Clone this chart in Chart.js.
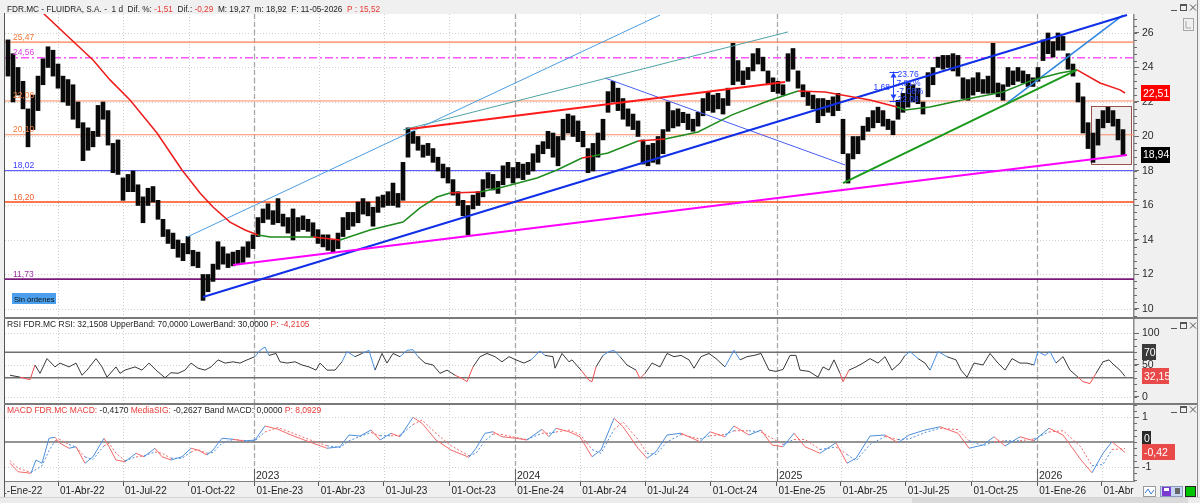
<!DOCTYPE html>
<html>
<head>
<meta charset="utf-8">
<script src="https://cdn.jsdelivr.net/npm/chart.js@4.4.1/dist/chart.umd.min.js"></script>
<style>
html,body{margin:0;padding:0}
body{position:relative;width:1200px;height:503px;overflow:hidden;background:#f0f0f0}
canvas{position:absolute;left:0}
.fr{position:absolute}
</style>
</head>
<body>
<canvas id="cPrice" width="1200" height="343" style="top:-6px"></canvas>
<canvas id="cRsi" width="1200" height="124" style="top:299px"></canvas>
<canvas id="cMacd" width="1200" height="132" style="top:385px"></canvas>
<div class="fr" style="left:4px;top:13px;width:1px;height:484px;background:#555"></div>
<div class="fr" style="left:4px;top:317px;width:1193px;height:2px;background:#7a7a7a"></div>
<div class="fr" style="left:4px;top:403px;width:1193px;height:2px;background:#7a7a7a"></div>
<div class="fr" style="left:1197px;top:0;width:1px;height:497px;background:#8a8a8a"></div>
<div class="fr" style="left:0;top:497px;width:1200px;height:6px;background:#ececec;border-top:1px solid #d4d4d4"></div>
<div class="fr" style="left:912px;top:498px;width:276px;height:5px;background:#dadada"></div>
<script>
const FONT = '"Liberation Sans", Arial, Helvetica, sans-serif';
Chart.defaults.font.family = FONT;
const PAD = 20;
const DARK = '#1e1e1e', RED = '#e53935';

// ---------- time axis ----------
const firstBarDate = '2022-01-21';
const firstTickDate = '2022-01-01', firstTickLabel = '01-Ene-22';
const quarterDates = ['2022-04-01','2022-07-01','2022-10-01','2023-01-01','2023-04-01','2023-07-01','2023-10-01','2024-01-01','2024-04-01','2024-07-01','2024-10-01','2025-01-01','2025-04-01','2025-07-01','2025-10-01','2026-01-01','2026-04-01'];
const quarterLabels = ['01-Abr-22','01-Jul-22','01-Oct-22','01-Ene-23','01-Abr-23','01-Jul-23','01-Oct-23','01-Ene-24','01-Abr-24','01-Jul-24','01-Oct-24','01-Ene-25','01-Abr-25','01-Jul-25','01-Oct-25','01-Ene-26','01-Abr'];
const yearDates = ['2023-01-01','2024-01-01','2025-01-01','2026-01-01'];
const yearLabels = ['2023','2024','2025','2026'];
const X_MIN = -0.6, X_MAX = 225.2;

// ---------- price (weekly ranges) ----------
const priceLow = [23.5,22.0,22.4,21.6,19.4,20.4,21.5,23.0,24.0,23.5,22.8,22.0,21.8,21.0,20.5,18.6,19.2,19.4,20.0,21.0,
19.5,17.9,17.8,16.3,16.8,16.8,16.0,15.0,16.0,16.2,15.2,14.2,13.8,13.5,13.0,12.8,13.2,12.5,12.4,10.5,
11.0,11.6,12.3,12.6,12.4,12.5,12.6,12.7,13.0,13.5,14.2,15.0,15.2,14.9,15.0,14.8,14.4,14.0,14.5,14.6,
14.5,14.2,13.8,13.6,13.4,13.3,13.5,14.2,14.6,14.8,15.0,15.5,15.4,14.8,15.6,15.9,16.0,16.0,15.9,16.3,
18.8,19.6,19.2,18.8,18.9,18.5,18.0,17.6,17.3,16.6,16.0,15.4,14.3,15.8,16.0,16.5,17.0,16.9,16.7,17.2,
17.6,17.3,17.6,17.5,17.8,18.0,18.5,19.0,19.3,18.8,18.3,19.8,20.2,20.0,19.7,19.4,17.9,18.0,18.8,19.8,
21.4,22.0,21.5,21.0,20.6,20.4,20.0,18.4,18.3,18.5,18.4,19.0,20.3,20.5,20.6,20.8,20.4,20.3,20.6,21.2,
21.5,21.4,21.6,21.3,21.8,23.0,23.2,23.0,23.3,23.8,24.2,23.8,23.0,22.6,22.5,22.4,23.2,23.9,22.8,22.3,
21.8,21.6,20.8,21.2,21.4,21.2,21.5,19.0,17.3,18.7,19.0,19.8,20.3,20.5,20.8,20.6,20.4,20.1,21.0,21.4,
21.7,22.0,21.9,21.3,22.3,23.0,24.0,23.9,24.0,23.8,23.5,22.2,22.1,22.4,22.6,22.5,22.5,22.5,22.3,22.1,
22.9,23.0,23.2,23.1,22.9,22.9,23.2,24.4,24.8,24.6,25.0,25.0,23.9,23.5,22.0,20.2,19.3,18.5,19.5,20.5,
20.8,20.6,19.8,18.9];
const priceHigh = [25.6,24.8,24.0,23.2,21.6,22.4,23.5,24.5,25.2,25.0,24.2,23.5,23.3,23.0,22.0,20.8,20.5,20.3,21.8,22.0,
21.5,19.6,19.8,17.6,17.8,18.0,17.2,16.5,17.0,17.1,16.3,15.2,14.6,14.4,14.0,13.8,14.2,13.4,13.3,12.0,
12.0,12.6,13.9,13.6,13.2,13.3,13.4,13.6,13.9,14.3,15.3,15.8,16.1,15.7,16.4,15.5,15.3,15.8,15.3,15.4,
15.2,15.0,14.6,14.3,14.3,14.0,14.4,15.3,15.6,15.6,16.2,16.4,16.2,15.9,16.5,16.6,16.8,17.3,16.7,18.5,
20.5,20.3,20.0,19.5,19.6,19.3,18.8,18.4,18.2,17.5,16.8,16.3,16.0,16.6,16.8,17.5,17.9,17.8,17.4,18.3,
18.5,18.2,18.5,18.4,18.5,19.0,19.5,19.7,20.3,20.2,20.0,21.0,21.3,21.2,20.9,20.3,19.3,19.6,20.2,21.0,
22.6,23.2,22.8,22.2,21.6,21.3,20.9,19.8,19.5,19.6,20.0,20.4,22.0,21.5,21.6,21.4,21.3,21.0,21.4,22.2,
22.6,22.4,22.5,22.2,22.8,25.4,24.4,23.8,24.0,24.8,25.1,24.6,23.8,23.4,23.2,23.0,24.8,25.1,23.8,23.0,
22.6,22.4,22.2,22.2,22.1,22.3,22.5,21.0,19.0,20.0,20.0,20.6,21.1,21.5,21.7,21.5,21.0,20.9,22.1,22.5,
23.1,23.0,22.8,22.0,23.7,24.0,24.6,24.7,24.7,24.8,24.7,23.4,23.3,23.4,23.7,23.3,23.5,25.4,23.1,23.0,
24.0,23.8,24.0,23.8,23.6,23.4,24.0,25.6,26.0,25.5,26.0,25.8,24.8,24.2,23.1,22.3,20.8,20.2,21.0,21.5,
21.7,21.5,21.0,20.4];
const priceTicks = [10,12,14,16,18,20,22,24,26];
const PRICE_MIN = 9.536, PRICE_MAX = 27.10;
const lastClose = 18.94, lastCloseLabel = '18,94';

// moving average
const maWeek = [5,17,20.4,24.4,29.8,34.8,38.4,41,44.4,47.4,50,52.4,61,66.4,72.4,79,82.4,85.8,88.4,94.4,99,105.8,109.8,114.8,116.8,120,126,131.4,138,144.8,152,158,163.4,172.4,177.8,179.4,184.4,191.8,199,205,210.4,213.8,218.4,222.4,223.4];
const maValue = [27.7,24.43,23.28,22.12,20.2,18.06,16.72,15.91,15.04,14.58,14.29,14.17,14.17,14.0,14.58,15.04,15.86,16.49,16.72,16.78,17.07,17.59,18.06,18.75,18.85,19.04,19.74,19.86,20.26,21.25,22.06,22.64,22.58,22.12,21.71,21.54,21.71,22.17,22.58,23.28,23.68,23.86,23.1,22.7,22.52];
const maLast = 22.51, maLastLabel = '22,51';

// horizontal levels
const levelValues = [25.47,24.56,22.06,20.10,18.02,16.20,11.73];
const levelLabels = ['25,47','24,56','22,06','20,10','18,02','16,20','11,73'];

// trendlines [week1, value1, week2, value2]
const trendMain = [39, 10.70, 223.8, 27.04];
const trendLight = [35.8, 14.17, 130.4, 27.04];
const trendTeal = [79, 20.38, 156, 26.06];
const trendRed = [80.4, 20.43, 155.4, 23.16];
const trendDown = [119.4, 23.39, 167.4, 18.35];
const trendMagenta = [45, 12.55, 223.8, 18.93];
const trendGreen = [167, 17.3, 213.8, 23.86];
const trendSteep = [199.8, 21.94, 223, 27.04];

const rectWeek = [216.6, 224.6], rectValue = [18.41, 21.77];
const measureWeek = 177, measureTop = 23.76, measureBottom = 22.08;
const measureTexts = ['23.76','7.81%','-7.08%','22.08','1.68'];

// ---------- RSI ----------
const rsiWeek = [0.4,2.4,4.4,5.4,6.4,7.8,9.4,10.4,12.2,13.6,14.8,15.8,17.6,18.8,19.8,21.6,22.4,23.4,25.4,26.8,
28.2,29.6,31.4,32.6,34,35.4,36.6,38,39.4,40.6,42,43.4,45,46.4,47.8,49.4,50.4,51.4,52.2,53.6,
54.4,55.8,57.4,58.8,60.2,61.6,62.4,63.8,65.4,66.8,67.8,69.4,70.8,72.2,73.4,74.8,75.8,77,78.4,79.8,
81,82,83.4,85,86.4,87.8,89.4,90.8,91.8,93,94.4,95.8,97.4,98.8,100.2,101.6,103.2,104.6,106.4,107.4,
109,109.4,110.8,112.2,112.8,114.6,116.2,116.8,117.6,119,120.2,121.2,122.4,123.8,125.6,126.4,127.4,128.8,130.4,131.8,
133.2,134.6,136.2,137.2,138.6,140.2,141.6,143.4,145.2,146.4,147.8,149.2,150.6,152.2,153.6,155,156.4,157.6,158.4,160.2,
162,163,164.2,165.2,166.4,167,168.2,169.6,171,172.4,174,175.4,176.8,178.4,179.4,180.4,182,183.4,184.4,186,
187.8,189.6,190.6,191.8,193.2,195,196.4,198,199.4,200.8,202.4,203.8,205.2,206,207.4,208.4,209.6,211,212.4,214,
215,216.4,217.6,219,220.2,221.2,222.4,223.4];
const rsiValue = [34,31,27,50,37,60,47,53,47,53,34,42,60,47,31,47,37,42,47,42,
53,42,30,38,37,42,53,45,42,47,58,53,55,53,58,63,73,78,65,68,
55,53,55,50,47,42,53,42,42,55,71,63,68,73,42,68,53,68,63,73,
74,63,53,50,37,42,34,29,24,47,63,68,63,55,63,58,53,58,72,65,
63,45,68,55,58,42,26,24,47,65,71,73,63,50,42,29,37,53,47,68,
63,65,58,45,63,68,60,47,73,58,63,65,68,42,40,43,65,65,42,40,
31,47,42,58,37,24,42,47,53,60,53,63,42,53,65,71,60,53,42,71,
63,58,42,31,53,50,68,53,42,60,53,53,50,71,65,71,53,63,42,31,
24,21,37,55,58,50,42,32.15];
const rsiUpper = 70, rsiLower = 30;
const rsiTicks = [0,50,100];
const RSI_MIN = -9.4, RSI_MAX = 121.9;
const rsiLastLabel = '32,15';

// ---------- MACD ----------
const macdWeek = [0.4,2,4.6,5.6,6.8,8.2,9.4,10.4,12.2,13.6,15.4,17,19.2,20.2,21.6,23.4,25.6,27.2,29.4,30.8,
32.6,34.8,36.6,38,39.8,41,42.8,45,47.2,49.4,51.4,54,56.6,60.2,63.8,66.4,68.2,70.4,72.6,74.4,
76.6,78.4,81,82.8,85.6,88.6,92.2,93.6,95.4,97,98.8,101.6,103.8,106.8,108.2,109.6,112.2,114.4,116.8,118.6,
121.2,123,126,127.8,129.6,131.8,134.6,138.4,140.4,143.4,145.2,148.2,150.6,152.8,155,157.2,159.4,162.4,165.6,167.8,
169.6,172.4,175.4,178,180.2,183.4,186.4,190,192.2,195,197.2,199.4,202.4,205.2,208.2,211,214.6,216.8,219,220.8,223.4];
const macdValue = [-0.85,-1.19,-1.25,-0.72,-0.85,0.15,0.19,-0.05,-0.25,-0.19,-0.85,-0.59,0.15,-0.19,-0.72,-0.79,-0.45,-0.59,-0.25,-0.59,
-0.72,-0.59,-0.25,-0.32,-0.52,-0.32,0.15,0.11,0.04,0.08,0.64,0.51,0.28,0.01,-0.25,-0.19,0.28,0.24,0.48,0.08,
0.35,0.21,0.99,0.75,0.08,-0.32,-0.61,-0.25,0.35,0.41,0.21,0.15,0.08,0.51,0.21,0.55,0.41,0.21,-0.59,-0.32,
0.95,0.61,-0.25,-0.65,-0.39,0.28,0.35,0.01,0.41,0.21,0.64,0.28,0.48,-0.12,-0.19,0.35,-0.19,-0.45,-0.03,-0.85,
-0.65,0.24,0.28,-0.03,0.28,0.48,0.61,0.35,-0.25,-0.12,0.21,-0.16,0.21,0.05,0.55,0.28,-0.72,-1.23,-0.45,0.01,-0.417];
const macdSignal = [-0.75,-1.05,-1.22,-1.1,-0.95,-0.35,0.05,0.1,-0.1,-0.2,-0.6,-0.7,-0.15,-0.05,-0.45,-0.75,-0.6,-0.55,-0.4,-0.45,
-0.65,-0.65,-0.4,-0.3,-0.45,-0.42,-0.05,0.1,0.06,0.05,0.4,0.58,0.38,0.1,-0.15,-0.22,0.05,0.22,0.38,0.25,
0.25,0.27,0.7,0.88,0.35,-0.15,-0.55,-0.45,0.05,0.32,0.3,0.18,0.1,0.35,0.35,0.4,0.48,0.3,-0.3,-0.45,
0.5,0.8,0.1,-0.45,-0.5,0.0,0.3,0.12,0.25,0.3,0.45,0.45,0.4,0.15,-0.1,0.1,0.1,-0.3,-0.2,-0.5,
-0.75,-0.1,0.22,0.1,0.12,0.38,0.55,0.5,0.05,-0.15,0.0,0.05,0.05,0.12,0.4,0.45,-0.2,-0.95,-0.9,-0.3,-0.263];
const macdTicks = [-1,1];
const MACD_MIN = -1.56, MACD_MAX = 1.48;
const macdLastLabel = '-0,42';

// ---------- helpers ----------
function weekOf(d){ return (Date.parse(d) - Date.parse(firstBarDate)) / (7*86400000); }
const quarterWeeks = quarterDates.map(weekOf);
const yearWeeks = yearDates.map(weekOf);
const pts = (xs, ys) => xs.map((w,i)=>({x:w, y:ys[i]}));
const segPts = s => [{x:s[0],y:s[1]},{x:s[2],y:s[3]}];
const hPts = v => [{x:X_MIN,y:v},{x:X_MAX,y:v}];
function lineDS(data, color, width, order, extra){
  return Object.assign({type:'line', data, borderColor:color, borderWidth:width, pointRadius:0, tension:0, fill:false, order}, extra||{});
}
function xHidden(){ return {type:'linear', min:X_MIN, max:X_MAX, display:false, offset:false}; }
function yAxis(min, max, ticks){
  return {type:'linear', position:'right', min, max,
    afterBuildTicks: s => { s.ticks = ticks.map(v=>({value:v})); },
    afterFit: s => { s.width = 66; },
    grid:{drawOnChartArea:false, drawTicks:true, tickLength:5, color:'#6a6a6a', lineWidth:1},
    border:{display:true, color:'#8a8a8a', width:1.5},
    ticks:{padding:3, color:'#2a2a2a', font:{family:FONT, size:10.5}, callback: v => String(v)}
  };
}
function runsFit(ctx, parts, x, y, width){
  ctx.font = '10px ' + FONT;
  const w = parts.reduce((s,p)=>s+ctx.measureText(p[0]).width, 0);
  const size = Math.min(11, 10*width/w);
  ctx.font = size.toFixed(2) + 'px ' + FONT;
  ctx.textBaseline = 'alphabetic';
  parts.forEach(([t,c])=>{ ctx.fillStyle=c; ctx.fillText(t,x,y); x += ctx.measureText(t).width; });
}
function winIcons(ctx, y){
  ctx.save(); ctx.strokeStyle='#555'; ctx.lineWidth=1;
  ctx.beginPath(); ctx.moveTo(1171,y+3.5); ctx.lineTo(1177,y+3.5); ctx.stroke();
  ctx.strokeRect(1180.5,y-2.5,6,6);
  ctx.beginPath(); ctx.moveTo(1181,y-1.5); ctx.lineTo(1186,y-1.5); ctx.stroke();
  ctx.beginPath(); ctx.moveTo(1190,y-2.5); ctx.lineTo(1196,y+3.5); ctx.moveTo(1196,y-2.5); ctx.lineTo(1190,y+3.5); ctx.stroke();
  ctx.restore();
}
function valueBox(ctx, x, yc, w, bg, text){
  ctx.fillStyle=bg; ctx.fillRect(x, Math.round(yc-8), w, 16);
  ctx.fillStyle='#fff'; ctx.font='10.5px '+FONT; ctx.textBaseline='middle'; ctx.textAlign='left';
  ctx.fillText(text, x+2, yc+0.5); ctx.textBaseline='alphabetic';
}
function minorTicks(chart, from, to, step){
  const {ctx, chartArea:a} = chart, y = chart.scales.y;
  ctx.save(); ctx.strokeStyle='#6a6a6a'; ctx.lineWidth=1; ctx.beginPath();
  for (let v=from; v<=to+1e-9; v+=step){
    const py = Math.round(y.getPixelForValue(v))+0.5;
    if (py<a.top || py>a.bottom) continue;
    ctx.moveTo(a.right, py); ctx.lineTo(a.right+3, py);
  }
  ctx.stroke(); ctx.restore();
}

// background, dotted grid, year dashes
const panelBg = {
  id:'panelBg',
  beforeDraw(chart, args, o){
    const {ctx, chartArea:a} = chart, x = chart.scales.x, y = chart.scales.y;
    ctx.save();
    ctx.fillStyle='#ffffff'; ctx.fillRect(a.left, a.top, a.right-a.left, a.bottom-a.top);
    ctx.strokeStyle='#cfcfcf'; ctx.lineWidth=1; ctx.setLineDash([1,2]);
    ctx.beginPath();
    (o.hLines||[]).forEach(v=>{ const py=Math.round(y.getPixelForValue(v))+0.5; if(py>a.top&&py<a.bottom){ctx.moveTo(a.left,py); ctx.lineTo(a.right,py);} });
    quarterWeeks.forEach(w=>{ const px=Math.round(x.getPixelForValue(w))+0.5; if(px>a.left&&px<a.right){ctx.moveTo(px,a.top); ctx.lineTo(px,a.bottom);} });
    ctx.stroke();
    ctx.strokeStyle='#a8a8a8'; ctx.lineWidth=1.3; ctx.setLineDash([5,3]);
    ctx.beginPath();
    yearWeeks.forEach(w=>{ const px=Math.round(x.getPixelForValue(w))+0.5; ctx.moveTo(px,a.top); ctx.lineTo(px,a.bottom); });
    ctx.stroke();
    ctx.restore();
  }
};

// ---------- price chart ----------
const levelColors = ['#ff8050','#ff55ff','#ff8c64','#ff8c64','#4646ff','#ff4a14','#7a1a7a'];
const levelTextColors = ['#f07838','#e040e0','#f07838','#f07838','#3a3aff','#f06030','#9a30a0'];
const levelWidths = [1.2,1.5,1,1,1,1.6,1.6];
const levelDash = [[],[8,3,2,3],[],[],[],[],[]];
const MA_RED = '#ee1c1c', MA_GREEN = '#1e8c1e';
function maSegColor(c){
  const w = (c.p0.parsed.x + c.p1.parsed.x)/2, v = (c.p0.parsed.y + c.p1.parsed.y)/2;
  const i = Math.max(0, Math.min(priceLow.length-1, Math.round(w)));
  return v > (priceLow[i]+priceHigh[i])/2 ? MA_RED : MA_GREEN;
}

const priceDatasets = [];
levelValues.forEach((v,i)=> priceDatasets.push(lineDS(hPts(v), levelColors[i], levelWidths[i], 8, {borderDash:levelDash[i]})));
priceDatasets.push({type:'bar', data: priceLow.map((lo,i)=>({x:i, y:[lo, priceHigh[i]]})), backgroundColor:'#0a0a0a', borderWidth:0, barThickness:4, order:5});
priceDatasets.push(lineDS(segPts(trendLight), '#4d9de0', 1, 3));
priceDatasets.push(lineDS(segPts(trendTeal), '#4fa3a5', 1, 3));
priceDatasets.push(lineDS(segPts(trendDown), '#4a5ef0', 1, 3));
priceDatasets.push(lineDS(segPts(trendSteep), '#2f86e0', 1.6, 3));
priceDatasets.push(lineDS(segPts(trendMagenta), '#ff00ff', 2, 2));
priceDatasets.push(lineDS(segPts(trendMain), '#1030e8', 2, 2));
priceDatasets.push(lineDS(segPts(trendRed), '#ff1a1a', 2, 2));
priceDatasets.push(lineDS(segPts(trendGreen), '#1a9a1a', 2, 2));
priceDatasets.push(lineDS(pts(maWeek, maValue), MA_RED, 1.5, 1, {segment:{borderColor: maSegColor}}));

const priceDecor = {
  id:'priceDecor',
  beforeDatasetsDraw(chart){
    const {ctx} = chart, x = chart.scales.x, y = chart.scales.y;
    const l = x.getPixelForValue(rectWeek[0]), r = x.getPixelForValue(rectWeek[1]);
    const t = y.getPixelForValue(rectValue[1]), b = y.getPixelForValue(rectValue[0]);
    ctx.save();
    ctx.fillStyle='#efefef'; ctx.fillRect(l,t,r-l,b-t);
    ctx.strokeStyle='#a0504a'; ctx.lineWidth=1;
    ctx.strokeRect(Math.round(l)+0.5, Math.round(t)+0.5, Math.round(r-l), Math.round(b-t));
    ctx.restore();
  },
  afterDraw(chart){
    const {ctx, chartArea:a} = chart, x = chart.scales.x, y = chart.scales.y;
    const T = chart.canvas.offsetTop;
    ctx.save(); ctx.translate(0, -T);
    // header strip
    ctx.fillStyle='#f0f0f0'; ctx.fillRect(0,0,1197,14);
    runsFit(ctx, [['FDR.MC - FLUIDRA, S.A. -  1 d  Dif. %: ',DARK],['-1,51',RED],['  Dif.: ',DARK],['-0,29',RED],['  M: 19,27  m: 18,92  F: 11-05-2026  ',DARK],['P : 15,52',RED]], 7, 11.5, 373);
    winIcons(ctx, 7);
    ctx.strokeStyle='#a8a8a8'; ctx.lineWidth=1; ctx.strokeRect(1183.5,18.5,10,12);
    ctx.beginPath(); ctx.moveTo(1186,21); ctx.lineTo(1186,28); ctx.lineTo(1191,28); ctx.stroke();
    // level labels
    ctx.font='8.5px '+FONT; ctx.textBaseline='alphabetic';
    levelValues.forEach((v,i)=>{ ctx.fillStyle=levelTextColors[i]; ctx.fillText(levelLabels[i], a.left+8, y.getPixelForValue(v)+T-2.5); });
    // measurement tool
    const mx = Math.round(x.getPixelForValue(measureWeek))+0.5;
    const m1 = y.getPixelForValue(measureTop)+T, m2 = y.getPixelForValue(measureBottom)+T;
    ctx.strokeStyle='#2340ff'; ctx.fillStyle='#2340ff'; ctx.lineWidth=1;
    ctx.beginPath(); ctx.moveTo(mx,m1); ctx.lineTo(mx,m2);
    ctx.moveTo(mx-4,Math.round(m1)+0.5); ctx.lineTo(mx+5,Math.round(m1)+0.5);
    ctx.moveTo(mx-4,Math.round(m2)+0.5); ctx.lineTo(mx+5,Math.round(m2)+0.5); ctx.stroke();
    ctx.beginPath(); ctx.moveTo(mx,m1+1); ctx.lineTo(mx-3,m1+6); ctx.lineTo(mx+3,m1+6); ctx.fill();
    ctx.beginPath(); ctx.moveTo(mx,m2-1); ctx.lineTo(mx-3,m2-6); ctx.lineTo(mx+3,m2-6); ctx.fill();
    ctx.font='8.5px '+FONT;
    ctx.fillText(measureTexts[0], mx+4, m1+5);
    ctx.fillText(measureTexts[1], mx+3, m1+14);
    ctx.fillText(measureTexts[2], mx+3, m2-7);
    ctx.fillText(measureTexts[3], mx+4, m2+1);
    ctx.fillText(measureTexts[4], mx-20, (m1+m2)/2+4);
    // "Sin órdenes"
    ctx.fillStyle='#4aa0ec'; ctx.fillRect(12,293,44,11);
    ctx.fillStyle='#111'; ctx.font='7.6px '+FONT; ctx.fillText('Sin órdenes', 14, 301.5);
    ctx.restore();
    // axis value boxes and minor ticks
    minorTicks(chart, 9.6, 27.0, 0.4);
    valueBox(ctx, a.right+7, y.getPixelForValue(maLast), 29, '#ff0000', maLastLabel);
    valueBox(ctx, a.right+7, y.getPixelForValue(lastClose), 29, '#000000', lastCloseLabel);
  }
};

new Chart(document.getElementById('cPrice'), {
  type:'bar',
  data:{datasets: priceDatasets},
  options:{
    responsive:false, animation:false, events:[],
    layout:{padding:{top:PAD, bottom:PAD, left:5, right:0}},
    scales:{x: xHidden(), y: yAxis(PRICE_MIN, PRICE_MAX, priceTicks)},
    plugins:{legend:{display:false}, tooltip:{enabled:false}, panelBg:{hLines: priceTicks}}
  },
  plugins:[panelBg, priceDecor]
});

// ---------- RSI chart ----------
const RSI_BLUE = '#4a8fe0', RSI_RED = '#f05050', RSI_DARK = '#3a3a3a';
const rsiDecor = {
  id:'rsiDecor',
  afterDraw(chart){
    const {ctx, chartArea:a} = chart, y = chart.scales.y;
    const T = chart.canvas.offsetTop;
    ctx.save(); ctx.translate(0,-T);
    runsFit(ctx, [['RSI FDR.MC RSI: 32,1508 UpperBand: 70,0000 LowerBand: 30,0000 ',DARK],['P: -4,2105',RED]], 7, 327, 303);
    winIcons(ctx, 325);
    ctx.restore();
    minorTicks(chart, 0, 100, 10);
    valueBox(ctx, a.right+8, y.getPixelForValue(rsiUpper), 14, '#3a3a3a', String(rsiUpper));
    valueBox(ctx, a.right+8, y.getPixelForValue(rsiValue[rsiValue.length-1]), 27, '#e84a4a', rsiLastLabel);
  }
};
new Chart(document.getElementById('cRsi'), {
  type:'line',
  data:{datasets:[
    lineDS(pts(rsiWeek, rsiValue), RSI_DARK, 1, 1, {segment:{borderColor: c => {
      const v0=c.p0.parsed.y, v1=c.p1.parsed.y;
      if (Math.max(v0,v1) > rsiUpper) return RSI_BLUE;
      if (Math.min(v0,v1) < rsiLower) return RSI_RED;
      return RSI_DARK; }}}),
    lineDS(hPts(rsiUpper), '#707070', 1.6, 3),
    lineDS(hPts(rsiLower), '#707070', 1.6, 3)
  ]},
  options:{
    responsive:false, animation:false, events:[],
    layout:{padding:{top:PAD, bottom:PAD, left:5, right:0}},
    scales:{x: xHidden(), y: yAxis(RSI_MIN, RSI_MAX, rsiTicks)},
    plugins:{legend:{display:false}, tooltip:{enabled:false}, panelBg:{hLines: rsiTicks}}
  },
  plugins:[panelBg, rsiDecor]
});

// ---------- MACD chart ----------
const M_BLUE = '#4f8fdc', M_RED = '#f26a6a';
const macdColor = c => macdValue[c.p1DataIndex] >= macdSignal[c.p1DataIndex] ? M_BLUE : M_RED;
const macdDecor = {
  id:'macdDecor',
  afterDraw(chart){
    const {ctx, chartArea:a} = chart, x = chart.scales.x, y = chart.scales.y;
    const T = chart.canvas.offsetTop;
    ctx.save(); ctx.translate(0,-T);
    runsFit(ctx, [['MACD FDR.MC MACD: ',RED],['-0,4170',DARK],[' MediaSIG: ',RED],['-0,2627 Band MACD: 0,0000 ',DARK],['P: 8,0929',RED]], 7, 413, 314);
    winIcons(ctx, 409);
    // year markers
    ctx.font='10.5px '+FONT; ctx.fillStyle='#2a2a2a'; ctx.strokeStyle='#666'; ctx.lineWidth=1;
    yearWeeks.forEach((w,i)=>{
      const px = Math.round(x.getPixelForValue(w))+0.5;
      ctx.beginPath(); ctx.moveTo(px, 469); ctx.lineTo(px, a.bottom+T); ctx.stroke();
      ctx.fillText(yearLabels[i], px+1.5, 479);
    });
    // first (clipped) date label
    ctx.font='10px '+FONT; ctx.textBaseline='middle';
    ctx.fillText(firstTickLabel, x.getPixelForValue(weekOf(firstTickDate))+2, 491);
    ctx.textBaseline='alphabetic';
    ctx.fillStyle='#f0f0f0'; ctx.fillRect(0,481,4,16);
    // bottom-right tool icons
    ctx.fillStyle='#ffffff'; ctx.fillRect(1143,486,13,11); ctx.strokeStyle='#9a9a9a'; ctx.strokeRect(1143.5,486.5,12,10);
    ctx.strokeStyle='#3a7ad8'; ctx.beginPath(); ctx.moveTo(1145,493); ctx.lineTo(1148,489); ctx.lineTo(1151,494); ctx.lineTo(1154,490); ctx.stroke();
    ctx.fillStyle='#c6d6f2'; ctx.fillRect(1160,486,23,11); ctx.strokeStyle='#8a9ac0'; ctx.strokeRect(1160.5,486.5,22,10);
    ctx.fillStyle='#7a3ad0'; ctx.fillRect(1162,487,9,9); ctx.fillStyle='#ffffff'; ctx.fillRect(1164,488,5,3);
    ctx.fillStyle='#666'; ctx.fillRect(1175,488,5,6);
    ctx.fillStyle='#00c400'; ctx.fillRect(1185,486,11,11); ctx.strokeStyle='#222'; ctx.strokeRect(1185.5,486.5,10,10);
    ctx.restore();
    minorTicks(chart, -1.5, 1.5, 0.25);
    valueBox(ctx, a.right+8, y.getPixelForValue(0)-3, 9, '#2a2a2a', '0');
    valueBox(ctx, a.right+8, y.getPixelForValue(macdValue[macdValue.length-1]), 33, '#e84a4a', macdLastLabel);
  }
};
new Chart(document.getElementById('cMacd'), {
  type:'line',
  data:{datasets:[
    lineDS(pts(macdWeek, macdValue), M_BLUE, 1, 1, {segment:{borderColor: macdColor}}),
    lineDS(pts(macdWeek, macdSignal), M_BLUE, 1, 2, {borderDash:[2,2], segment:{borderColor: macdColor}}),
    lineDS(hPts(0), '#707070', 1.6, 3)
  ]},
  options:{
    responsive:false, animation:false, events:[],
    layout:{padding:{top:PAD, bottom:PAD, left:5, right:0}},
    scales:{
      x:{type:'linear', min:X_MIN, max:X_MAX, offset:false, position:'bottom',
        afterBuildTicks: s => { s.ticks = quarterWeeks.map(v=>({value:v})); },
        afterFit: s => { s.height = 16; },
        grid:{drawOnChartArea:false, drawTicks:true, tickLength:5, color:'#555', lineWidth:1},
        border:{display:true, color:'#808080', width:1},
        ticks:{autoSkip:false, maxRotation:0, minRotation:0, align:'start', labelOffset:2, padding:-1,
          color:'#1e1e1e', font:{family:FONT, size:10}, callback:(v,i)=>quarterLabels[i]}
      },
      y: yAxis(MACD_MIN, MACD_MAX, macdTicks)
    },
    plugins:{legend:{display:false}, tooltip:{enabled:false}, panelBg:{hLines: macdTicks}}
  },
  plugins:[panelBg, macdDecor]
});
</script>
</body>
</html>
